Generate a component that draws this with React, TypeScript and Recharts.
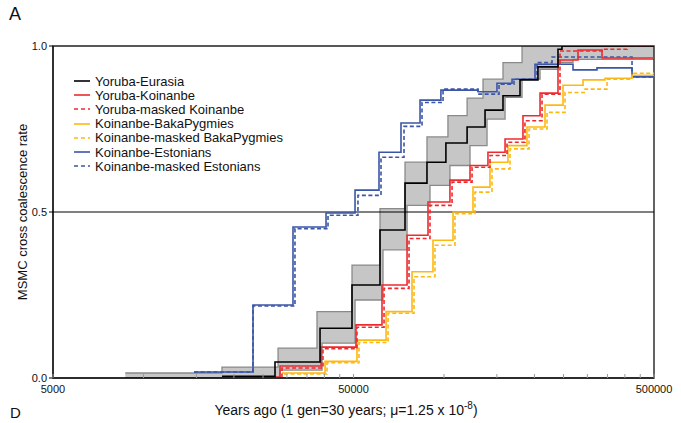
import { ComposedChart, Line, Area, XAxis, YAxis, ReferenceLine, ReferenceArea } from 'recharts';

// [years ago, cross coalescence rate] — step starts
const yorubaEurasia = [
  [18250, 0.005], [27400, 0.048], [38690, 0.15], [49430, 0.28], [61260, 0.446], [74200, 0.587],
  [87800, 0.65], [101500, 0.708], [119400, 0.756], [137000, 0.807], [157200, 0.85], [179100, 0.898],
  [205500, 0.937], [239600, 0.99], [247000, 1.0], [500000, 1.0],
];
const bandUpper = [
  [8700, 0.015], [18250, 0.033], [28050, 0.09], [37800, 0.2], [49430, 0.34], [61260, 0.51],
  [74200, 0.65], [87800, 0.726], [103100, 0.79], [119400, 0.843], [134900, 0.9], [157200, 0.95],
  [181900, 1.0], [500000, 1.0],
];
const bandLower = [
  [8700, 0], [28470, 0.024], [39290, 0.105], [50590, 0.235], [62680, 0.386], [75370, 0.52],
  [89850, 0.58], [104700, 0.64], [122100, 0.7], [139100, 0.78], [159700, 0.845], [181900, 0.9],
  [208800, 0.93], [239600, 0.95], [268800, 0.96], [500000, 0.96],
];
const yorubaKoinanbe = [
  [18250, 0.003], [28470, 0.036], [39000, 0.093], [50970, 0.16], [62200, 0.28], [75370, 0.43],
  [88490, 0.53], [104700, 0.596], [122100, 0.64], [140100, 0.68], [159700, 0.72], [183200, 0.79],
  [208800, 0.858], [239600, 0.958], [279300, 0.988], [335700, 0.964], [500000, 0.964],
];
const yorubaMaskedKoinanbe = [
  [18540, 0.0], [28900, 0.03], [39570, 0.088], [51350, 0.153], [63180, 0.27], [76510, 0.42],
  [89850, 0.52], [106400, 0.59], [124000, 0.635], [142300, 0.67], [162100, 0.71], [186000, 0.775],
  [212000, 0.855], [243300, 0.985], [335700, 0.99], [406600, 1.0], [500000, 1.0],
];
const koinanbeBaka = [
  [28900, 0.015], [40200, 0.05], [51350, 0.114], [64170, 0.2], [78290, 0.32], [91930, 0.415],
  [107200, 0.5], [124900, 0.575], [142300, 0.65], [163300, 0.7], [188900, 0.756], [216900, 0.822],
  [249000, 0.882], [290300, 0.898], [343500, 0.903], [422500, 0.912], [500000, 0.912],
];
const koinanbeMaskedBaka = [
  [29360, 0.012], [40810, 0.046], [52140, 0.107], [65160, 0.195], [79490, 0.305], [93360, 0.4],
  [108800, 0.495], [126800, 0.56], [144500, 0.63], [165900, 0.69], [191900, 0.75], [220300, 0.8],
  [252800, 0.86], [294800, 0.87], [348800, 0.9], [422500, 0.918], [500000, 0.918],
];
const koinanbeEstonians = [
  [14730, 0.018], [23150, 0.22], [31450, 0.455], [40510, 0.497], [50590, 0.566], [60790, 0.68],
  [71950, 0.768], [83250, 0.837], [97700, 0.867], [129800, 0.862], [150100, 0.888], [168500, 0.9],
  [200900, 0.945], [268800, 0.928], [323000, 0.934], [422500, 0.907], [500000, 0.907],
];
const koinanbeMaskedEstonians = [
  [14730, 0.018], [23150, 0.217], [31930, 0.45], [41130, 0.49], [51740, 0.55], [61730, 0.665],
  [73630, 0.758], [84520, 0.83], [99300, 0.87], [129800, 0.855], [152500, 0.885], [171000, 0.9],
  [204000, 0.95], [228900, 0.967], [422500, 0.907], [500000, 0.907],
];

const xTicks = [5000, 10000, 15000, 20000, 25000, 30000, 35000, 40000, 45000, 50000,
  100000, 150000, 200000, 250000, 300000, 350000, 400000, 450000, 500000];
const xLabels = [5000, 50000, 500000];
const yTicks = [0, 0.5, 1];

const FONT = '"Liberation Sans", Arial, Helvetica, sans-serif';
const RED = '#ee2a2e';
const YELLOW = '#fdb913';
const BLUE = '#3b56a6';

const toPts = (arr: number[][]) => arr.map(([x, y]) => ({ x, y }));

// value of a step function at x
const stepAt = (arr: number[][], x: number) => {
  let v = arr[0][1];
  for (const [px, py] of arr) if (px <= x) v = py;
  return v;
};
const bandX = Array.from(new Set([...bandUpper, ...bandLower].map((p) => p[0]))).sort((a, b) => a - b);
const bandData = bandX.map((x) => ({ x, range: [stepAt(bandLower, x), stepAt(bandUpper, x)] }));

const series = [
  { name: 'Yoruba-Eurasia', data: yorubaEurasia, color: '#000', dash: '' },
  { name: 'Yoruba-Koinanbe', data: yorubaKoinanbe, color: RED, dash: '' },
  { name: 'Yoruba-masked Koinanbe', data: yorubaMaskedKoinanbe, color: RED, dash: '4 2.5' },
  { name: 'Koinanbe-BakaPygmies', data: koinanbeBaka, color: YELLOW, dash: '' },
  { name: 'Koinanbe-masked BakaPygmies', data: koinanbeMaskedBaka, color: YELLOW, dash: '4 2.5' },
  { name: 'Koinanbe-Estonians', data: koinanbeEstonians, color: BLUE, dash: '' },
  { name: 'Koinanbe-masked Estonians', data: koinanbeMaskedEstonians, color: BLUE, dash: '4 2.5' },
];
const drawOrder = [6, 5, 4, 3, 2, 1, 0];

const XTick = (props: any) => {
  const { x, y, payload } = props;
  return (
    <g>
      <line x1={x} x2={x} y1={y} y2={y - 4} stroke="#999" />
      {xLabels.includes(payload.value) && (
        <text x={x} y={y} dy={15} textAnchor="middle" fontSize={11} fill="#111" fontFamily={FONT}>
          {payload.value}
        </text>
      )}
    </g>
  );
};

export default function App() {
  return (
    <div style={{ position: 'absolute', left: 0, top: 0, width: 681, height: 423, background: '#fff', fontFamily: FONT, overflow: 'hidden' }}>
      <div style={{ position: 'absolute', left: 9, top: 4, fontSize: 18, color: '#111' }}>A</div>
      <div style={{ position: 'absolute', left: 10, top: 404, fontSize: 15, lineHeight: '17px', color: '#111' }}>D</div>
      <div
        style={{
          position: 'absolute', left: 22, top: 212, fontSize: 13, color: '#111', whiteSpace: 'nowrap',
          transform: 'translate(-50%, -50%) rotate(-90deg)',
        }}
      >
        MSMC cross coalescence rate
      </div>
      <div style={{ position: 'absolute', left: 346, top: 409, fontSize: 14, color: '#111', whiteSpace: 'nowrap', transform: 'translate(-50%, -50%)' }}>
        Years ago (1 gen=30 years; μ=1.25 x 10<sup style={{ fontSize: 10 }}>-8</sup>)
      </div>
      <ComposedChart width={681} height={423} margin={{ top: 46, right: 27, bottom: 0, left: 0 }}>
        <XAxis
          dataKey="x"
          type="number"
          scale="log"
          domain={[5000, 500000]}
          allowDataOverflow
          ticks={xTicks}
          interval={0}
          tick={<XTick />}
          tickLine={false}
          tickSize={0}
          tickMargin={0}
          height={45}
          axisLine={{ stroke: '#000', strokeWidth: 1.2 }}
        />
        <YAxis
          type="number"
          domain={[0, 1]}
          allowDataOverflow
          ticks={yTicks}
          tickFormatter={(v: number) => v.toFixed(1)}
          width={53}
          tickSize={4}
          tickMargin={2}
          tick={{ fontSize: 11, fill: '#111', fontFamily: FONT }}
          tickLine={{ stroke: '#000' }}
          axisLine={{ stroke: '#000' }}
        />
        <Area
          data={bandData}
          dataKey="range"
          type="stepAfter"
          fill="#c6c6c6"
          fillOpacity={1}
          stroke="#8a8a8a"
          strokeWidth={1.3}
          isAnimationActive={false}
        />
        <ReferenceLine y={0.5} stroke="#000" strokeWidth={1} />
        {drawOrder.map((i) => {
          const s = series[i];
          return (
            <Line
              key={s.name}
              data={toPts(s.data)}
              dataKey="y"
              name={s.name}
              type="stepAfter"
              stroke={s.color}
              strokeWidth={1.6}
              strokeDasharray={s.dash || undefined}
              dot={false}
              isAnimationActive={false}
            />
          );
        })}
        <ReferenceArea x1={5000} x2={500000} y1={0} y2={1} fill="none" stroke="#222" strokeWidth={1.4} ifOverflow="visible" />
      </ComposedChart>
      <div style={{ position: 'absolute', left: 74, top: 74 }}>
        {series.map((s) => (
          <div key={s.name} style={{ display: 'flex', alignItems: 'center', height: 14.2, fontSize: 13, color: '#111', whiteSpace: 'nowrap' }}>
            <svg width={21} height={4}>
              <line x1={0} x2={16} y1={2} y2={2} stroke={s.color} strokeWidth={1.6} strokeDasharray={s.dash ? '4 3' : undefined} />
            </svg>
            <span>{s.name}</span>
          </div>
        ))}
      </div>
    </div>
  );
}
